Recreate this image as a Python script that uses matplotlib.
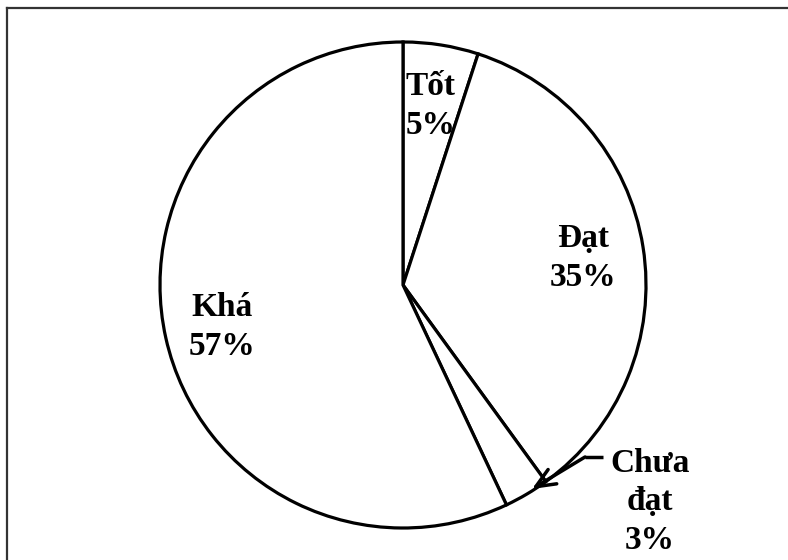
import matplotlib
matplotlib.use("Agg")
import matplotlib.pyplot as plt
from matplotlib.lines import Line2D

categories = ["Tốt", "Đạt", "Chưa\nđạt", "Khá"]
values = [5, 35, 3, 57]
labels = ["Tốt\n5%", "Đạt\n35%", "Chưa\nđạt\n3%", "Khá\n57%"]

W, H = 788, 560
CX, CY, R = 403, 285, 243

def px(x, y):
    return (x - CX) / R, (CY - y) / R

plt.rcParams['font.family'] = ['Liberation Serif', 'DejaVu Serif']

fig = plt.figure(figsize=(W / 100, H / 100), dpi=100)
ax = fig.add_axes([0, 0, 1, 1])
ax.pie(values, startangle=90, counterclock=False, radius=1,
       colors=['white'] * len(values),
       wedgeprops=dict(edgecolor='black', linewidth=2.3))
ax.set_xlim(-CX / R, (W - CX) / R)
ax.set_ylim(-(H - CY) / R, CY / R)
ax.set_aspect('equal')
ax.axis('off')

fs = 24
tx = [px(431, 106), px(583, 258), px(650, 502), px(222, 327)]
for (x, y), lab in zip(tx, labels):
    ax.text(x, y, lab, ha='center', va='center', fontsize=fs,
            fontweight='bold', linespacing=1.3)

# arrow for small slice
x0, y0 = px(603, 457)
x1, y1 = px(585, 457)
x2, y2 = px(532, 489)
ax.plot([x0, x1], [y0, y1], color='black', lw=2.5, solid_capstyle='butt')
ax.annotate('', xy=(x2, y2), xytext=(x1, y1),
            arrowprops=dict(arrowstyle='->,head_length=1.4,head_width=0.6',
                            color='black', lw=2.5, shrinkA=0, shrinkB=0))

# outer frame (top and left visible)
fig.add_artist(Line2D([7 / W, 1], [1 - 8 / H, 1 - 8 / H], color='#333333', lw=1.6,
                      transform=fig.transFigure))
fig.add_artist(Line2D([7 / W, 7 / W], [0, 1 - 8 / H], color='#333333', lw=1.6,
                      transform=fig.transFigure))

fig.savefig('out.png', dpi=100, facecolor='white')
